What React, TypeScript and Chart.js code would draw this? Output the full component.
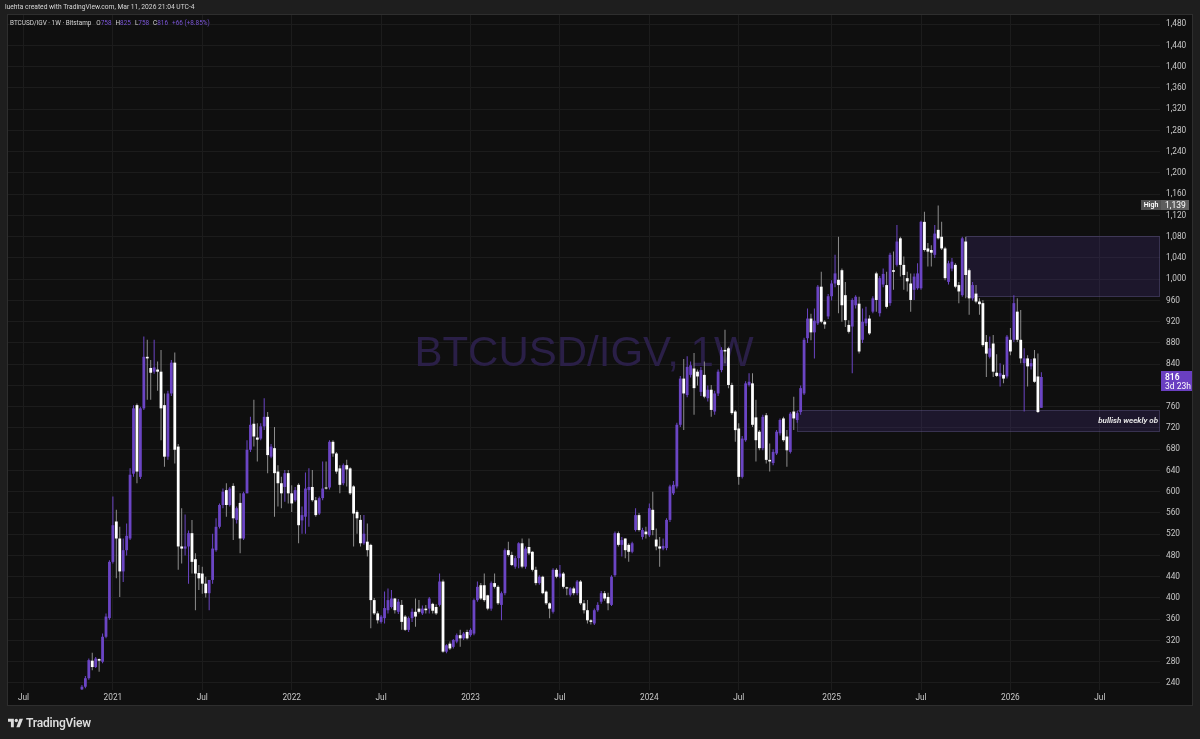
import { useEffect, useRef } from 'react';
import { Chart, registerables } from 'chart.js';

Chart.register(...registerables);

// ---------- time axis ----------
const AXIS_START_UTC = Date.UTC(2020, 5, 8); // first weekly slot on the time axis (Mon Jun 8, 2020)
const AXIS_WEEKS = 335; // slots shown on the time axis (incl. empty future space)
const FIRST_CANDLE_SLOT = 21; // first candle: week of Nov 2, 2020

// ---------- weekly OHLC (BTCUSD/IGV) ----------
const OPEN = [
  228, 233, 249, 282, 270, 285, 280, 327, 362, 468,
  544, 512, 450, 490, 512, 634, 763, 628, 757, 854,
  833, 826, 830, 826, 763, 666, 785, 843, 685, 497,
  493, 497, 522, 473, 447, 446, 427, 409, 434, 490,
  534, 575, 603, 575, 611, 547, 579, 512, 597, 679,
  728, 702, 700, 723, 741, 666, 682, 638, 616, 609,
  635, 597, 584, 613, 546, 553, 603, 609, 584, 559,
  588, 608, 608, 694, 672, 644, 616, 650, 644, 610,
  562, 547, 503, 506, 500, 396, 371, 355, 362, 377,
  383, 399, 374, 387, 365, 340, 362, 374, 380, 371,
  380, 380, 389, 383, 387, 431, 299, 314, 308, 318,
  330, 324, 336, 330, 333, 396, 424, 424, 405, 380,
  428, 421, 387, 409, 490, 481, 459, 475, 503, 459,
  496, 487, 453, 428, 440, 412, 390, 374, 453, 440,
  446, 420, 406, 418, 409, 431, 390, 377, 358, 352,
  377, 393, 409, 402, 387, 443, 522, 500, 512, 500,
  487, 528, 556, 515, 525, 518, 566, 510, 497, 493,
  494, 547, 597, 610, 726, 813, 782, 820, 832, 826,
  788, 820, 776, 792, 751, 785, 829, 867, 870, 801,
  751, 719, 628, 697, 801, 804, 740, 713, 682, 744,
  660, 654, 672, 710, 738, 704, 675, 751, 735, 750,
  785, 889, 926, 900, 917, 986, 920, 930, 968, 992,
  999, 1017, 970, 914, 911, 951, 954, 886, 917, 926,
  939, 1011, 936, 990, 989, 955, 1017, 1027, 1077, 1027,
  1002, 992, 980, 983, 983, 1108, 1058, 1055, 1046, 1093,
  1080, 1058, 995, 1020, 1027, 989, 970, 1071, 1017, 964,
  973, 958, 955, 882, 854, 879, 824, 817, 820, 817,
  886, 886, 939, 886, 842, 851, 836, 851, 817, 758,
];
const HIGH = [
  236, 253, 286, 297, 289, 286, 333, 371, 471, 591,
  566, 534, 512, 540, 644, 763, 766, 760, 892, 886,
  848, 886, 845, 867, 785, 790, 848, 862, 690, 569,
  557, 527, 547, 484, 462, 459, 440, 434, 521, 550,
  578, 606, 616, 609, 616, 572, 597, 600, 697, 741,
  773, 729, 729, 776, 750, 690, 722, 650, 628, 641,
  641, 612, 609, 616, 572, 636, 644, 641, 590, 591,
  657, 657, 697, 697, 675, 650, 653, 660, 646, 612,
  565, 556, 556, 540, 502, 400, 375, 368, 412, 418,
  415, 400, 398, 396, 368, 365, 380, 399, 396, 386,
  387, 402, 391, 388, 446, 435, 313, 318, 323, 333,
  340, 336, 340, 343, 399, 431, 428, 446, 406, 431,
  446, 424, 412, 493, 506, 487, 479, 505, 512, 497,
  512, 488, 459, 443, 442, 414, 392, 456, 456, 462,
  449, 421, 420, 421, 434, 434, 396, 396, 360, 380,
  392, 413, 413, 410, 443, 525, 525, 515, 512, 503,
  506, 569, 560, 532, 534, 578, 600, 531, 515, 512,
  550, 613, 620, 730, 818, 850, 855, 845, 861, 830,
  835, 845, 800, 801, 790, 830, 872, 905, 873, 805,
  754, 729, 705, 808, 823, 823, 773, 716, 745, 748,
  691, 680, 716, 738, 741, 716, 750, 779, 752, 800,
  890, 945, 935, 945, 989, 1014, 923, 972, 998, 1046,
  1080, 1020, 995, 923, 964, 970, 967, 945, 948, 932,
  968, 1014, 1006, 1020, 1014, 1050, 1052, 1102, 1080, 1043,
  1014, 1011, 1011, 1030, 1110, 1127, 1068, 1064, 1102, 1139,
  1108, 1061, 1035, 1040, 1030, 995, 1080, 1080, 1020, 995,
  989, 964, 961, 895, 892, 895, 859, 842, 839, 895,
  908, 970, 964, 942, 870, 857, 850, 867, 860, 825,
];
const LOW = [
  226, 230, 246, 264, 268, 261, 277, 324, 359, 465,
  437, 402, 430, 480, 509, 628, 616, 624, 754, 773,
  773, 822, 790, 697, 647, 660, 780, 653, 453, 465,
  480, 427, 446, 377, 415, 408, 401, 377, 427, 487,
  531, 569, 553, 572, 509, 540, 484, 509, 597, 675,
  685, 657, 697, 716, 635, 663, 553, 572, 569, 581,
  578, 562, 581, 503, 521, 521, 534, 581, 553, 556,
  584, 604, 604, 666, 634, 597, 612, 610, 594, 497,
  521, 497, 500, 478, 343, 368, 352, 352, 352, 371,
  380, 371, 370, 340, 338, 336, 355, 346, 371, 368,
  371, 371, 371, 368, 384, 297, 296, 302, 305, 315,
  308, 321, 322, 327, 330, 393, 396, 393, 377, 376,
  418, 387, 358, 405, 478, 460, 455, 456, 456, 455,
  481, 450, 424, 425, 407, 387, 362, 371, 437, 437,
  418, 405, 403, 405, 405, 387, 371, 352, 350, 349,
  374, 389, 395, 377, 385, 440, 497, 478, 475, 468,
  484, 525, 525, 510, 512, 515, 518, 490, 459, 490,
  490, 543, 594, 606, 722, 716, 778, 815, 745, 800,
  780, 776, 770, 741, 745, 780, 825, 842, 795, 745,
  694, 613, 625, 694, 798, 722, 657, 678, 678, 653,
  638, 650, 669, 706, 694, 647, 672, 716, 730, 745,
  782, 880, 885, 851, 914, 917, 907, 925, 960, 985,
  936, 920, 910, 898, 823, 945, 860, 880, 912, 895,
  936, 939, 930, 985, 945, 950, 980, 1024, 1005, 980,
  977, 939, 961, 980, 980, 1052, 1024, 1024, 1040, 1075,
  1055, 998, 990, 1015, 983, 955, 967, 964, 933, 960,
  955, 933, 873, 816, 851, 816, 816, 798, 804, 813,
  857, 882, 882, 842, 751, 798, 830, 805, 748, 758,
];
const CLOSE = [
  233, 249, 283, 270, 286, 282, 327, 365, 468, 537,
  512, 450, 490, 517, 632, 757, 638, 757, 854, 851,
  824, 834, 826, 757, 666, 785, 843, 679, 497, 493,
  497, 522, 468, 446, 437, 427, 409, 434, 493, 534,
  575, 600, 575, 606, 550, 569, 512, 597, 679, 726,
  704, 698, 723, 741, 669, 685, 635, 616, 597, 635,
  597, 578, 603, 537, 556, 606, 609, 584, 556, 588,
  606, 606, 694, 672, 638, 613, 650, 642, 597, 559,
  550, 503, 521, 490, 396, 371, 358, 365, 381, 396,
  399, 377, 393, 355, 340, 362, 374, 365, 374, 380,
  377, 399, 376, 371, 431, 299, 311, 305, 321, 330,
  324, 333, 324, 340, 396, 421, 399, 396, 380, 428,
  421, 390, 409, 490, 481, 462, 475, 503, 459, 493,
  484, 453, 428, 440, 409, 390, 380, 453, 440, 446,
  421, 418, 418, 409, 431, 390, 377, 358, 355, 377,
  387, 409, 399, 390, 440, 522, 500, 509, 490, 487,
  503, 556, 528, 528, 520, 569, 528, 497, 493, 498,
  547, 610, 613, 726, 813, 785, 835, 838, 795, 817,
  829, 779, 792, 754, 785, 826, 867, 864, 801, 748,
  716, 628, 700, 804, 807, 726, 697, 682, 741, 660,
  657, 675, 713, 735, 697, 678, 747, 738, 748, 795,
  886, 926, 900, 922, 986, 920, 915, 968, 992, 1011,
  989, 951, 923, 901, 961, 967, 864, 920, 926, 898,
  964, 961, 1002, 1010, 948, 1046, 1014, 1071, 1027, 1008,
  996, 961, 1005, 1011, 1108, 1055, 1052, 1050, 1086, 1077,
  1058, 1002, 1030, 1033, 986, 977, 1077, 1008, 964, 989,
  958, 953, 876, 860, 870, 826, 818, 823, 813, 892,
  864, 955, 886, 851, 851, 836, 842, 807, 750, 816,
];

// ---------- price axis ----------
const PRICE_TICKS = [
  240, 280, 320, 360, 400, 440, 480, 520, 560, 600, 640, 680, 720, 760, 800, 840,
  880, 920, 960, 1000, 1040, 1080, 1120, 1160, 1200, 1240, 1280, 1320, 1360, 1400, 1440, 1480,
];
const PRICE_MIN = 226.8;
const PRICE_MAX = 1497.4;

// ---------- drawn zones (start slot, bottom price, top price) ----------
const SUPPLY_ZONE = { start: 278, bottom: 967, top: 1081, label: '' };
const OB_ZONE = { start: 229, bottom: 713, top: 754, label: 'bullish weekly ob' };

// ---------- texts ----------
const HEADER_TEXT = 'luehta created with TradingView.com, Mar 11, 2026 21:04 UTC-4';
const SYMBOL_TEXT = 'BTCUSD/IGV · 1W · Bitstamp';
const WATERMARK = 'BTCUSD/IGV, 1W';
const COUNTDOWN = '3d 23h';
const CHANGE_TEXT = '+66 (+8.85%)';

const UP = '#6b45c4';
const DOWN = '#ffffff';
const UP_WICK = '#6b45c4';
const DOWN_WICK = '#8d8d8d';
const PANE_BG = '#0f0f0f';
const OUTER_BG = '#1e1e1e';
const GRID = '#1c1c1c';
const AXIS_TEXT = '#c9c9c9';
const FONT = 'Roboto, "Liberation Sans", sans-serif';

const fmt = (v: number) => v.toLocaleString('en-US');

export default function App() {
  const ref = useRef<HTMLCanvasElement | null>(null);

  useEffect(() => {
    const DAY = 86400000;
    const weeks = Array.from({ length: AXIS_WEEKS }, (_, i) => new Date(AXIS_START_UTC + i * 7 * DAY));
    const labels = weeks.map((d) => d.toISOString().slice(0, 10));
    const tickText = weeks.map((d) => {
      const prev = new Date(d.getTime() - 7 * DAY);
      if (d.getUTCMonth() === prev.getUTCMonth()) return '';
      if (d.getUTCMonth() === 0) return String(d.getUTCFullYear());
      if (d.getUTCMonth() === 6) return 'Jul';
      return '';
    });

    const bodies: any[] = new Array(AXIS_WEEKS).fill(null);
    const wicks: any[] = new Array(AXIS_WEEKS).fill(null);
    const bodyColors: string[] = new Array(AXIS_WEEKS).fill('rgba(0,0,0,0)');
    const wickColors: string[] = new Array(AXIS_WEEKS).fill('rgba(0,0,0,0)');
    OPEN.forEach((o, n) => {
      const i = FIRST_CANDLE_SLOT + n;
      const c = CLOSE[n];
      let lo = Math.min(o, c);
      let hi = Math.max(o, c);
      if (hi - lo < 2) {
        const m = (hi + lo) / 2;
        lo = m - 1;
        hi = m + 1;
      }
      bodies[i] = [lo, hi];
      wicks[i] = [LOW[n], HIGH[n]];
      const up = c >= o;
      bodyColors[i] = up ? UP : DOWN;
      wickColors[i] = up ? UP_WICK : DOWN_WICK;
    });

    const lastIdx = CLOSE.length - 1;
    const highest = Math.max(...HIGH);

    const drawPlugin = {
      id: 'tvDecor',
      beforeDraw(chart: any) {
        const { ctx } = chart;
        ctx.save();
        ctx.fillStyle = PANE_BG;
        ctx.fillRect(7, 14, 1186, 692);
        ctx.strokeStyle = '#2e2e2e';
        ctx.lineWidth = 1;
        ctx.strokeRect(7.5, 14.5, 1185, 691);
        ctx.restore();
      },
      beforeDatasetsDraw(chart: any) {
        const { ctx, chartArea, scales } = chart;
        const x = scales.x;
        const y = scales.y;
        ctx.save();
        ctx.beginPath();
        ctx.rect(chartArea.left, chartArea.top, chartArea.right - chartArea.left, chartArea.bottom - chartArea.top);
        ctx.clip();
        // watermark
        ctx.fillStyle = '#2a1f47';
        ctx.font = '42px "Liberation Sans", Arial, sans-serif';
        ctx.textAlign = 'center';
        ctx.textBaseline = 'alphabetic';
        ctx.fillText(WATERMARK, (chartArea.left + chartArea.right) / 2, 366);
        // zones
        [SUPPLY_ZONE, OB_ZONE].forEach((z) => {
          const x0 = Math.round(x.getPixelForValue(z.start));
          const y0 = Math.round(y.getPixelForValue(z.top));
          const y1 = Math.round(y.getPixelForValue(z.bottom));
          ctx.fillStyle = 'rgba(74,52,140,0.24)';
          ctx.fillRect(x0, y0, chartArea.right - x0, y1 - y0);
          ctx.strokeStyle = 'rgba(110,100,150,0.35)';
          ctx.lineWidth = 1;
          ctx.strokeRect(x0 + 0.5, y0 + 0.5, chartArea.right - x0 - 1, y1 - y0 - 1);
        });
        ctx.restore();
      },
      afterDatasetsDraw(chart: any) {
        const { ctx, chartArea, scales } = chart;
        const y = scales.y;
        ctx.save();
        [SUPPLY_ZONE, OB_ZONE].forEach((z) => {
          if (!z.label) return;
          const ym = (y.getPixelForValue(z.top) + y.getPixelForValue(z.bottom)) / 2;
          ctx.fillStyle = '#ececec';
          ctx.font = 'italic 600 8px ' + FONT;
          ctx.textAlign = 'right';
          ctx.textBaseline = 'middle';
          ctx.fillText(z.label, chartArea.right - 2, ym + 0.5);
        });
        ctx.restore();
      },
      afterDraw(chart: any) {
        const { ctx, scales } = chart;
        const y = scales.y;
        ctx.save();
        // last price label
        const p = Math.round(y.getPixelForValue(CLOSE[lastIdx]));
        ctx.fillStyle = '#6a3fc1';
        ctx.fillRect(1161, p - 6, 31, 20);
        ctx.fillStyle = '#ffffff';
        ctx.textAlign = 'left';
        ctx.textBaseline = 'middle';
        ctx.font = '600 8.5px ' + FONT;
        ctx.fillText(fmt(CLOSE[lastIdx]), 1165, p + 0.5);
        ctx.font = '8.5px ' + FONT;
        ctx.fillText(COUNTDOWN, 1165, p + 9.5);
        // high label
        const ph = Math.round(y.getPixelForValue(highest));
        ctx.fillStyle = '#505050';
        ctx.fillRect(1141, ph - 5, 20, 10);
        ctx.fillStyle = '#5d5d5d';
        ctx.fillRect(1161, ph - 5, 28, 10);
        ctx.fillStyle = '#ffffff';
        ctx.font = '600 7px ' + FONT;
        ctx.textAlign = 'center';
        ctx.fillText('High', 1151, ph + 0.5);
        ctx.textAlign = 'left';
        ctx.font = '8.5px ' + FONT;
        ctx.fillText(fmt(highest), 1165, ph + 0.5);
        ctx.restore();
      },
    };

    const chart = new Chart(ref.current as HTMLCanvasElement, {
      type: 'bar',
      data: {
        labels,
        datasets: [
          {
            data: bodies,
            backgroundColor: bodyColors,
            borderWidth: 0,
            borderSkipped: false,
            barThickness: 2.8,
            grouped: false,
            inflateAmount: 0,
          } as any,
          {
            data: wicks,
            backgroundColor: wickColors,
            borderWidth: 0,
            borderSkipped: false,
            barThickness: 1,
            grouped: false,
            inflateAmount: 0,
          } as any,
        ],
      },
      options: {
        responsive: false,
        animation: false,
        devicePixelRatio: 1,
        layout: { padding: { left: 8, top: 15, right: 0, bottom: 33 } },
        plugins: { legend: { display: false }, tooltip: { enabled: false } },
        scales: {
          x: {
            type: 'category',
            offset: true,
            border: { display: false },
            grid: { color: GRID, offset: false, drawTicks: false, lineWidth: 1 },
            ticks: {
              autoSkip: false,
              maxRotation: 0,
              minRotation: 0,
              padding: 3,
              color: AXIS_TEXT,
              font: { family: FONT, size: 8.3 },
              callback: (v: any) => tickText[v as number],
            },
            afterBuildTicks: (s: any) => {
              s.ticks = s.ticks.filter((t: any) => tickText[t.value]);
            },
            afterFit: (s: any) => {
              s.height = 16;
            },
          } as any,
          y: {
            type: 'linear',
            position: 'right',
            min: PRICE_MIN,
            max: PRICE_MAX,
            border: { display: false },
            grid: { color: GRID, drawTicks: false, lineWidth: 1 },
            ticks: {
              padding: 6,
              color: AXIS_TEXT,
              font: { family: FONT, size: 8.3 },
              callback: (v: any) => fmt(Number(v)),
            },
            afterBuildTicks: (s: any) => {
              s.ticks = PRICE_TICKS.map((v) => ({ value: v }));
            },
            afterFit: (s: any) => {
              s.width = 40;
            },
          } as any,
        },
      },
      plugins: [drawPlugin],
    });
    return () => chart.destroy();
  }, []);

  const purple = '#7a55d6';
  const n = CLOSE.length - 1;
  return (
    <div
      style={{
        position: 'fixed',
        left: 0,
        top: 0,
        width: 1200,
        height: 739,
        background: OUTER_BG,
        overflow: 'hidden',
        fontFamily: FONT,
      }}
    >
      <canvas ref={ref} width={1200} height={739} style={{ position: 'absolute', left: 0, top: 0, width: 1200, height: 739 }} />
      <div style={{ position: 'absolute', left: 5, top: 3, fontSize: 6.7, lineHeight: '8px', color: '#d6d6d6', whiteSpace: 'nowrap' }}>
        {HEADER_TEXT}
      </div>
      <div style={{ position: 'absolute', left: 10, top: 19, fontSize: 6.4, lineHeight: '8px', color: '#d6d6d6', whiteSpace: 'nowrap' }}>
        {SYMBOL_TEXT}
        <span style={{ marginLeft: 5 }}>O</span>
        <span style={{ color: purple }}>{OPEN[n]}</span>
        <span style={{ marginLeft: 4 }}>H</span>
        <span style={{ color: purple }}>{HIGH[n]}</span>
        <span style={{ marginLeft: 4 }}>L</span>
        <span style={{ color: purple }}>{LOW[n]}</span>
        <span style={{ marginLeft: 4 }}>C</span>
        <span style={{ color: purple }}>{CLOSE[n]}</span>
        <span style={{ marginLeft: 4, color: purple }}>{CHANGE_TEXT}</span>
      </div>
      <div style={{ position: 'absolute', left: 8, top: 716, display: 'flex', alignItems: 'center', color: '#dcdcdc' }}>
        <svg width="15" height="12" viewBox="0 0 36 28" style={{ marginRight: 3 }}>
          <path d="M14 24H7V11H0V4h14v20z" fill="#dcdcdc" />
          <circle cx="20" cy="8" r="4" fill="#dcdcdc" />
          <path d="M28 24h-8l7.5-20H36L28 24z" fill="#dcdcdc" />
        </svg>
        <span style={{ fontSize: 12, fontWeight: 600, letterSpacing: -0.2 }}>TradingView</span>
      </div>
    </div>
  );
}
